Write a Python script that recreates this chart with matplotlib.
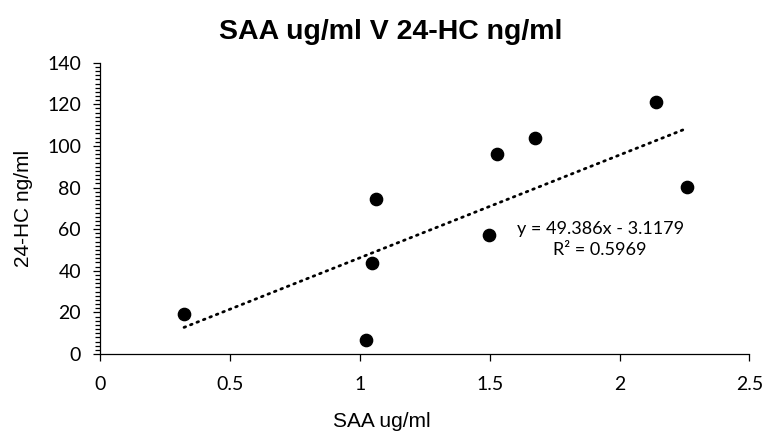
import numpy as np
import matplotlib
matplotlib.use("Agg")
import matplotlib.pyplot as plt
from matplotlib.ticker import MultipleLocator, FuncFormatter

# ---------- Data ----------
saa = [0.322, 1.023, 1.045, 1.062, 1.498, 1.527, 1.674, 2.139, 2.259]
hc24 = [19.2, 6.7, 43.9, 74.3, 57.2, 96.1, 103.8, 121.0, 80.4]
slope = 49.386
intercept = -3.1179
r2 = 0.5969

title = "SAA ug/ml V 24-HC ng/ml"
xlabel = "SAA ug/ml"
ylabel = "24-HC ng/ml"

# ---------- Figure ----------
fig = plt.figure(figsize=(7.64, 4.38), dpi=100)
ax = fig.add_axes([0.1315, 0.1918, 0.8493, 0.665])

ax.scatter(saa, hc24, s=78, color="black", zorder=3)

# linear trendline over data range
xt = np.array([min(saa), max(saa)])
ax.plot(xt, slope * xt + intercept, color="black", lw=2.0,
        linestyle=(0, (0.6, 1.9)), dash_capstyle="round", zorder=2)

ax.text(1.925, 60, f"y = {slope}x - {abs(intercept)}", ha="center", va="center",
        fontsize=13, family="Lato")
ax.text(1.925, 50, f"R² = {r2}", ha="center", va="center",
        fontsize=13, family="Lato")

ax.set_xlim(0, 2.5)
ax.set_ylim(0, 140)
ax.xaxis.set_major_locator(MultipleLocator(0.5))
ax.yaxis.set_major_locator(MultipleLocator(20))
ax.yaxis.set_minor_locator(MultipleLocator(2))
ax.xaxis.set_major_formatter(FuncFormatter(lambda v, p: f"{v:g}"))

for s in ("top", "right"):
    ax.spines[s].set_visible(False)
for s in ("left", "bottom"):
    ax.spines[s].set_linewidth(0.9)

ax.tick_params(axis="x", which="major", direction="out", length=5, width=0.9,
               labelsize=14, pad=11)
ax.tick_params(axis="y", which="major", direction="out", length=5, width=0.9,
               labelsize=14, pad=9)
ax.tick_params(axis="y", which="minor", direction="out", length=3.5, width=0.9)
for lab in ax.get_xticklabels() + ax.get_yticklabels():
    lab.set_family("Lato")

ax.set_xlabel(xlabel, fontsize=15, family="Liberation Sans")
ax.xaxis.set_label_coords(0.433, -0.198)
ax.set_ylabel(ylabel, fontsize=15, family="Liberation Sans", labelpad=10)
fig.text(0.512, 0.928, title, fontsize=20.5, fontweight="bold", family="Liberation Sans",
         ha="center", va="center")

fig.savefig("out.png", dpi=100)
plt.close(fig)
